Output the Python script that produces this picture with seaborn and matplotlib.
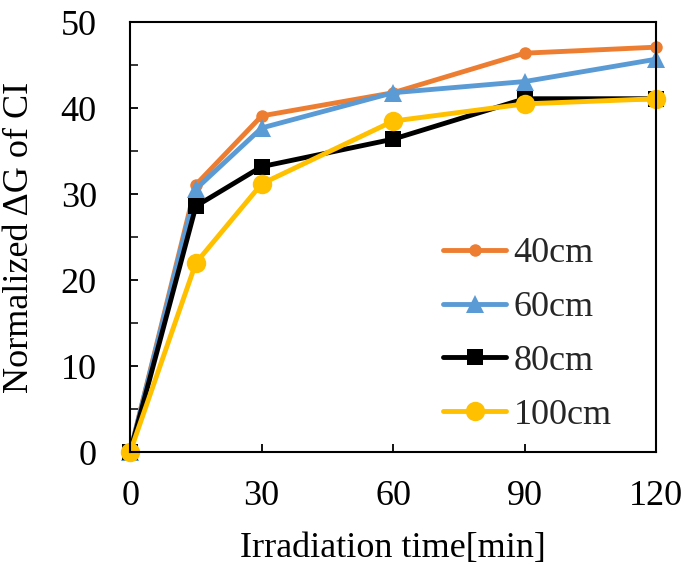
import pandas as pd
import matplotlib
matplotlib.use("Agg")
import matplotlib.pyplot as plt
import seaborn as sns

# Data
time_min = [0, 15, 30, 60, 90, 120]
v40 = [0, 31.1, 39.1, 41.8, 46.4, 47.1]
v60 = [0, 30.6, 37.7, 41.8, 43.1, 45.7]
v80 = [0, 28.6, 33.2, 36.4, 41.1, 41.1]
v100 = [0, 22.0, 31.2, 38.5, 40.5, 41.1]
series_names = ["40cm", "60cm", "80cm", "100cm"]

sns.set_theme(style="white")
plt.rcParams['font.family'] = ['Liberation Serif', 'DejaVu Serif']

fig = plt.figure(figsize=(6.85, 5.7), dpi=100)
ax = fig.add_axes([0.19, 0.207, 0.768, 0.754])

styles = {
    "40cm": dict(color="#ED7D31", marker="o", markersize=9),
    "60cm": dict(color="#5B9BD5", marker="^", markersize=13),
    "80cm": dict(color="black", marker="s", markersize=12),
    "100cm": dict(color="#FFC000", marker="o", markersize=14),
}

for name, vals in zip(series_names, [v40, v60, v80, v100]):
    st = styles[name]
    sns.lineplot(x=time_min, y=vals, ax=ax, color=st["color"], linewidth=3.5,
                 marker=st["marker"], markersize=st["markersize"],
                 markeredgewidth=0, label=name, clip_on=False)

ax.set_xlim(0, 120)
ax.set_ylim(0, 50)
ax.set_xticks([0, 30, 60, 90, 120])
ax.set_yticks([0, 10, 20, 30, 40, 50])
ax.set_yticks([5, 15, 25, 35, 45], minor=True)
ax.tick_params(axis="both", direction="in", length=6, width=1.3, labelsize=26,
               colors="black", bottom=True, left=True)
ax.tick_params(axis="x", pad=20)
ax.tick_params(axis="y", pad=24)
ax.tick_params(axis="y", which="minor", direction="in", length=6, width=1.3, left=True)

for sp in ax.spines.values():
    sp.set_color("black")
    sp.set_linewidth(1.5)

ax.set_xlabel("Irradiation time[min]", fontsize=26, color="black", labelpad=14)
ax.set_ylabel("Normalized ΔG of CI", fontsize=26, color="black", labelpad=18)

ax.legend(loc="upper left", frameon=False, fontsize=26, handlelength=1.75,
          handletextpad=0.2, labelspacing=0.57, borderpad=0, borderaxespad=0,
          bbox_to_anchor=(0.595, 0.50))

fig.savefig("out.png", dpi=100)
